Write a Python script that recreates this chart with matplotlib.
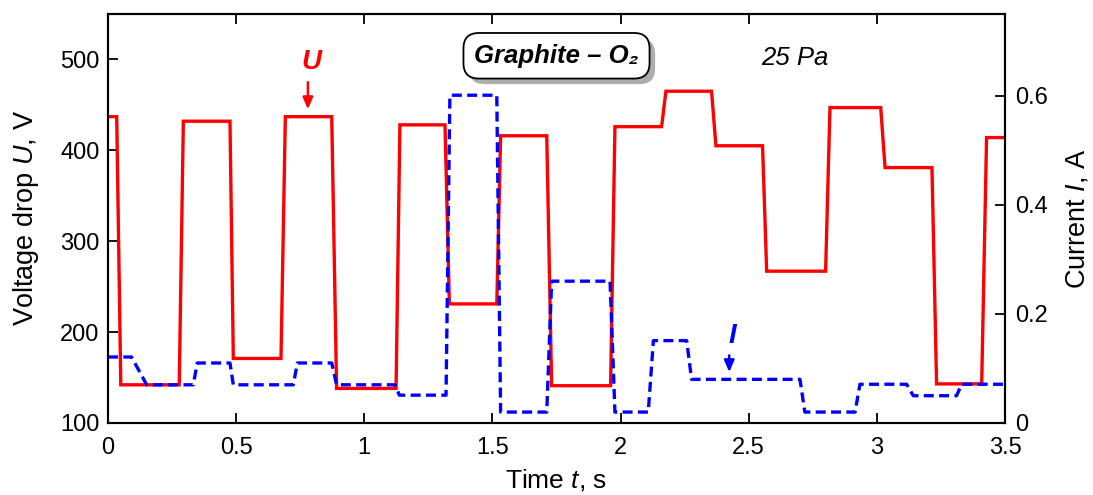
import matplotlib
matplotlib.use("Agg")
import matplotlib.pyplot as plt
import matplotlib.patheffects as pe
from matplotlib.ticker import FuncFormatter

# voltage drop U (V): corner points of the stepped trace
U_t = [0.0, 0.034, 0.050, 0.278, 0.294, 0.476, 0.489, 0.675, 0.692, 0.873,
       0.892, 1.124, 1.139, 1.315, 1.332, 1.517, 1.532, 1.712, 1.731, 1.961,
       1.978, 2.160, 2.177, 2.355, 2.372, 2.554, 2.570, 2.800, 2.817, 3.015,
       3.032, 3.215, 3.233, 3.409, 3.428, 3.5]
U_v = [437, 437, 142, 142, 432, 432, 171, 171, 437, 437,
       138, 138, 428, 428, 231, 231, 416, 416, 141, 141,
       426, 426, 465, 465, 405, 405, 267, 267, 447, 447,
       381, 381, 143, 143, 414, 414]

# current I (A)
I_t = [0.0, 0.092, 0.151, 0.333, 0.348, 0.476, 0.489, 0.723, 0.739, 0.873,
       0.892, 1.120, 1.137, 1.319, 1.334, 1.517, 1.532, 1.712, 1.731, 1.959,
       1.978, 2.108, 2.128, 2.258, 2.277, 2.700, 2.719, 2.915, 2.934, 3.116,
       3.142, 3.311, 3.331, 3.5]
I_v = [0.121, 0.121, 0.070, 0.070, 0.110, 0.110, 0.070, 0.070, 0.110, 0.110,
       0.070, 0.070, 0.051, 0.051, 0.601, 0.601, 0.020, 0.020, 0.260, 0.260,
       0.020, 0.020, 0.151, 0.151, 0.080, 0.080, 0.020, 0.020, 0.071, 0.071,
       0.050, 0.050, 0.071, 0.071]

x_ticks = [0, 0.5, 1, 1.5, 2, 2.5, 3, 3.5]
u_ticks = [100, 200, 300, 400, 500]
i_ticks = [0, 0.2, 0.4, 0.6]

plt.rcParams["font.family"] = ["Liberation Sans", "DejaVu Sans"]
plt.rcParams["mathtext.fontset"] = "custom"
plt.rcParams["mathtext.rm"] = "Liberation Sans"
plt.rcParams["mathtext.it"] = "Liberation Sans:italic"
plt.rcParams["mathtext.bf"] = "Liberation Sans:bold"

fig = plt.figure(figsize=(10.93, 4.95), dpi=100)
ax = fig.add_axes([0.0988, 0.1455, 0.8207, 0.8263])
ax2 = ax.twinx()

ax.plot(U_t, U_v, color="#ff0000", lw=2.4, solid_joinstyle="miter")
ax2.plot(I_t, I_v, color="#0000ff", lw=2.4, ls=(0, (3.0, 1.6)))

ax.set_xlim(0, 3.5)
ax.set_ylim(100, 550)
ax2.set_ylim(0, 0.75)
ax.set_xticks(x_ticks)
ax.set_yticks(u_ticks)
ax2.set_yticks(i_ticks)
ax.xaxis.set_major_formatter(FuncFormatter(lambda v, p: "%g" % v))
ax2.yaxis.set_major_formatter(FuncFormatter(lambda v, p: "%g" % v))

for spine in ax.spines.values():
    spine.set_linewidth(1.5)
for spine in ax2.spines.values():
    spine.set_linewidth(1.5)

ax.tick_params(axis="x", direction="in", top=True, length=7, width=1.3,
               labelsize=17, pad=10)
ax.tick_params(axis="y", direction="in", length=7, width=1.3,
               labelsize=17, pad=6)
ax2.tick_params(axis="y", direction="in", length=7, width=1.3,
                labelsize=17, pad=7)

ax.set_xlabel(r"Time $\mathit{t}$, s", fontsize=19, labelpad=6)
ax.set_ylabel(r"Voltage drop $\mathit{U}$, V", fontsize=19.5, labelpad=14)
ax2.set_ylabel(r"Current $\mathit{I}$, A", fontsize=19.5, labelpad=12)

# U label and arrow
ax.annotate("", xy=(0.780, 442), xytext=(0.780, 478),
            arrowprops=dict(arrowstyle="-|>,head_length=0.7,head_width=0.3",
                            color="#ff0000", lw=1.8))
ax.text(0.795, 497, "U", color="#ff0000", fontsize=20, fontweight="bold",
        fontstyle="italic", ha="center", va="center")

# I label and arrow
ax2.annotate("", xy=(2.424, 0.088), xytext=(2.424, 0.129),
             arrowprops=dict(arrowstyle="-|>,head_length=0.7,head_width=0.3",
                             color="#0000ff", lw=1.8))
ax2.text(2.437, 0.160, "I", color="#0000ff", fontsize=20, fontweight="bold",
         fontstyle="italic", ha="center", va="center")

title = ax.text(1.75, 504, "Graphite – O₂", fontsize=18.5, fontweight="bold",
                fontstyle="italic", ha="center", va="center", zorder=10,
                bbox=dict(boxstyle="round,pad=0.42,rounding_size=0.6",
                          fc="white", ec="black", lw=1.3))
title.get_bbox_patch().set_path_effects([
    pe.SimplePatchShadow(offset=(4, -4), shadow_rgbFace="#999999", alpha=0.8),
    pe.Normal()])

ax.text(2.68, 502, "25 Pa", fontsize=18.5, fontstyle="italic",
        ha="center", va="center")

fig.savefig("out.png", dpi=100)
